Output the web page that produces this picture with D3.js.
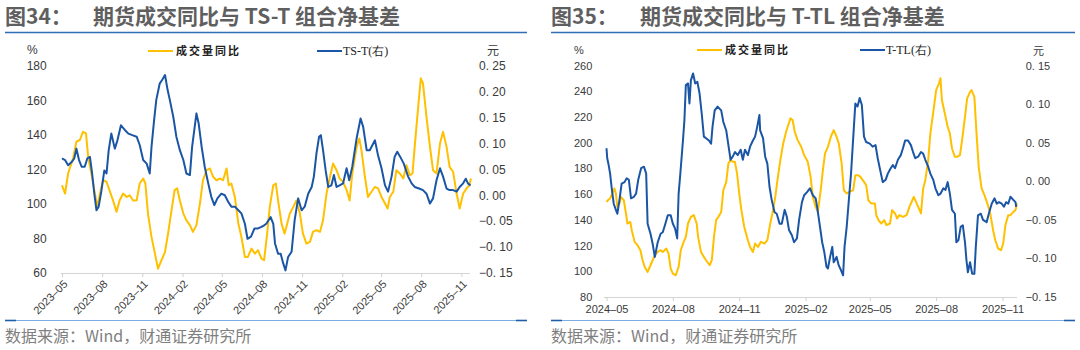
<!DOCTYPE html>
<html>
<head>
<meta charset="utf-8">
<script src="https://cdn.jsdelivr.net/npm/d3@7"></script>
<style>
  body { margin: 0; background: #fff; }
  svg { display: block; }
</style>
</head>
<body>
<svg id="chart" width="1080" height="350"></svg>
<script>
// ---------- TS-T panel data ----------
const tstMonths = ["2023-05","2023-08","2023-11","2024-02","2024-05","2024-08","2024-11","2025-02","2025-05","2025-08","2025-11"];
const tstLeftTicks = [60, 80, 100, 120, 140, 160, 180];
const tstRightTicks = [-0.15, -0.10, -0.05, 0.00, 0.05, 0.10, 0.15, 0.20, 0.25];

const tstVolDates = ["2023-05-01","2023-05-08","2023-05-15","2023-05-27","2023-06-03","2023-06-11","2023-06-18","2023-06-25","2023-06-30","2023-07-08","2023-07-14","2023-07-21","2023-07-27","2023-08-03","2023-08-11","2023-08-19","2023-08-26","2023-09-03","2023-09-10","2023-09-18","2023-09-26","2023-10-03","2023-10-11","2023-10-19","2023-10-26","2023-11-03","2023-11-08","2023-11-14","2023-11-22","2023-11-30","2023-12-07","2023-12-15","2023-12-23","2023-12-30","2024-01-07","2024-01-14","2024-01-20","2024-01-26","2024-02-03","2024-02-10","2024-02-18","2024-02-25","2024-03-04","2024-03-12","2024-03-19","2024-03-27","2024-04-04","2024-04-11","2024-04-19","2024-04-27","2024-05-04","2024-05-12","2024-05-17","2024-05-23","2024-05-31","2024-06-08","2024-06-15","2024-06-23","2024-06-30","2024-07-08","2024-07-16","2024-07-23","2024-07-31","2024-08-06","2024-08-13","2024-08-19","2024-08-27","2024-09-02","2024-09-07","2024-09-15","2024-09-22","2024-09-28","2024-10-04","2024-10-12","2024-10-19","2024-10-27","2024-11-03","2024-11-11","2024-11-19","2024-11-26","2024-12-04","2024-12-12","2024-12-19","2024-12-27","2025-01-04","2025-01-11","2025-01-19","2025-01-26","2025-02-03","2025-02-11","2025-02-18","2025-02-24","2025-03-06","2025-03-12","2025-03-17","2025-03-25","2025-04-01","2025-04-09","2025-04-17","2025-04-24","2025-05-02","2025-05-10","2025-05-16","2025-05-21","2025-05-29","2025-06-05","2025-06-13","2025-06-21","2025-06-28","2025-07-06","2025-07-12","2025-07-17","2025-07-25","2025-07-31","2025-08-05","2025-08-13","2025-08-21","2025-08-28","2025-09-05","2025-09-13","2025-09-20","2025-09-28","2025-10-05","2025-10-13","2025-10-21","2025-10-28","2025-11-05","2025-11-13","2025-11-19","2025-11-23"];
const tstVolYoY = [110.8,106,117.6,127,136,137,141.7,140.8,127,116.6,108,98.3,106,113.7,112.8,107,102,95.4,102,106,104,105,102,102,111.8,114.7,111.8,94.4,80.9,71.2,62.5,67.4,72.2,82.8,96.4,108,109,102,94.4,90.5,87.7,83.8,87.7,100.2,113.7,119.5,120.5,115.7,113.7,114.7,113.7,120.5,110.8,111.8,104,88.6,80.9,69.3,69.3,74.1,71.2,73.2,68.3,67.4,82.8,98.3,110.8,111.8,102,88.6,82.8,88.6,94.4,98.3,102,94.4,82.8,77,78,83.8,84.8,83.8,90.5,106,115.7,123.4,119.5,114.7,112.8,108,102,117.6,133,137.9,131.1,115.7,104,107,109.9,109,104,100.2,97.3,104,107,119.5,117.6,114.7,122.4,116.6,117.6,133,156.2,172.7,169.8,150.4,133,119.5,117.6,135,141.7,133,121.4,118.6,106,97.3,106,109,110.8,114.7];

const tstBasisDates = ["2023-05-01","2023-05-08","2023-05-15","2023-05-23","2023-05-29","2023-06-03","2023-06-09","2023-06-15","2023-06-22","2023-06-28","2023-07-04","2023-07-09","2023-07-14","2023-07-19","2023-07-24","2023-07-30","2023-08-06","2023-08-11","2023-08-16","2023-08-22","2023-08-30","2023-09-05","2023-09-13","2023-09-22","2023-09-30","2023-10-09","2023-10-19","2023-10-26","2023-11-03","2023-11-11","2023-11-18","2023-11-22","2023-11-28","2023-12-03","2023-12-11","2023-12-16","2023-12-23","2023-12-29","2024-01-03","2024-01-11","2024-01-18","2024-01-26","2024-02-03","2024-02-10","2024-02-18","2024-02-23","2024-02-29","2024-03-04","2024-03-09","2024-03-16","2024-03-23","2024-03-31","2024-04-07","2024-04-14","2024-04-21","2024-04-30","2024-05-08","2024-05-16","2024-05-23","2024-05-31","2024-06-08","2024-06-15","2024-06-23","2024-06-29","2024-07-07","2024-07-15","2024-07-23","2024-07-31","2024-08-06","2024-08-11","2024-08-21","2024-08-27","2024-08-31","2024-09-07","2024-09-13","2024-09-19","2024-09-24","2024-09-30","2024-10-08","2024-10-15","2024-10-23","2024-10-31","2024-11-07","2024-11-15","2024-11-23","2024-11-28","2024-12-04","2024-12-10","2024-12-14","2024-12-19","2024-12-25","2024-12-31","2025-01-07","2025-01-13","2025-01-19","2025-01-26","2025-02-03","2025-02-11","2025-02-17","2025-02-24","2025-03-06","2025-03-15","2025-03-21","2025-03-29","2025-04-05","2025-04-17","2025-04-24","2025-05-02","2025-05-10","2025-05-17","2025-05-25","2025-06-01","2025-06-07","2025-06-14","2025-06-22","2025-07-02","2025-07-10","2025-07-17","2025-07-27","2025-08-05","2025-08-13","2025-08-21","2025-08-28","2025-09-05","2025-09-13","2025-09-20","2025-09-28","2025-10-05","2025-10-13","2025-10-21","2025-10-28","2025-11-05","2025-11-11","2025-11-16","2025-11-22"];
const tstBasis = [0.071,0.068,0.058,0.064,0.071,0.090,0.068,0.055,0.055,0.071,0.074,0.042,0.003,-0.029,-0.022,0.007,0.048,0.042,0.087,0.119,0.090,0.106,0.135,0.126,0.119,0.116,0.113,0.097,0.068,0.061,0.042,0.093,0.145,0.184,0.216,0.222,0.232,0.203,0.184,0.151,0.113,0.087,0.068,0.042,0.039,0.093,0.132,0.158,0.139,0.093,0.055,0.023,-0.003,-0.019,-0.006,0.003,0.000,-0.013,-0.022,-0.022,-0.029,-0.035,-0.055,-0.084,-0.080,-0.064,-0.064,-0.061,-0.058,-0.055,-0.042,-0.055,-0.093,-0.113,-0.113,-0.132,-0.145,-0.119,-0.109,-0.048,-0.006,-0.029,-0.022,0.003,0.016,0.036,0.081,0.113,0.116,0.087,0.048,0.016,0.019,0.039,0.016,0.019,0.023,0.052,0.029,0.055,0.110,0.148,0.132,0.087,0.087,0.106,0.077,0.052,0.019,0.007,0.036,0.074,0.084,0.074,0.061,0.036,0.023,0.016,0.013,0.010,0.003,-0.016,-0.006,0.029,0.052,0.036,0.013,0.010,0.010,0.007,0.016,0.023,0.032,0.023,0.019];

// ---------- T-TL panel data ----------
const ttlMonths = ["2024-05","2024-08","2024-11","2025-02","2025-05","2025-08","2025-11"];
const ttlLeftTicks = [80, 100, 120, 140, 160, 180, 200, 220, 240, 260];
const ttlRightTicks = [-0.15, -0.10, -0.05, 0.00, 0.05, 0.10, 0.15];

const ttlVolDates = ["2024-05-01","2024-05-03","2024-05-06","2024-05-10","2024-05-12","2024-05-14","2024-05-16","2024-05-19","2024-05-21","2024-05-25","2024-05-28","2024-05-30","2024-06-03","2024-06-05","2024-06-09","2024-06-13","2024-06-17","2024-06-20","2024-06-23","2024-06-27","2024-07-01","2024-07-04","2024-07-07","2024-07-11","2024-07-15","2024-07-18","2024-07-23","2024-07-26","2024-07-29","2024-08-01","2024-08-05","2024-08-09","2024-08-12","2024-08-16","2024-08-19","2024-08-22","2024-08-26","2024-08-30","2024-09-03","2024-09-05","2024-09-09","2024-09-13","2024-09-16","2024-09-21","2024-09-24","2024-09-27","2024-09-30","2024-10-03","2024-10-07","2024-10-10","2024-10-14","2024-10-17","2024-10-20","2024-10-23","2024-10-26","2024-10-29","2024-11-01","2024-11-04","2024-11-08","2024-11-13","2024-11-16","2024-11-20","2024-11-23","2024-11-27","2024-12-01","2024-12-06","2024-12-10","2024-12-14","2024-12-17","2024-12-21","2024-12-24","2024-12-28","2025-01-01","2025-01-05","2025-01-08","2025-01-11","2025-01-14","2025-01-17","2025-01-21","2025-01-26","2025-01-30","2025-02-04","2025-02-08","2025-02-11","2025-02-15","2025-02-18","2025-02-22","2025-02-25","2025-02-28","2025-03-04","2025-03-08","2025-03-12","2025-03-16","2025-03-19","2025-03-23","2025-03-26","2025-03-30","2025-04-03","2025-04-08","2025-04-11","2025-04-15","2025-04-18","2025-04-23","2025-04-26","2025-04-29","2025-05-03","2025-05-08","2025-05-10","2025-05-13","2025-05-17","2025-05-21","2025-05-24","2025-05-29","2025-06-01","2025-06-05","2025-06-08","2025-06-11","2025-06-16","2025-06-21","2025-06-25","2025-06-29","2025-07-01","2025-07-05","2025-07-08","2025-07-11","2025-07-14","2025-07-17","2025-07-21","2025-07-24","2025-07-29","2025-08-01","2025-08-05","2025-08-07","2025-08-09","2025-08-13","2025-08-17","2025-08-20","2025-08-23","2025-08-27","2025-08-30","2025-09-03","2025-09-06","2025-09-10","2025-09-13","2025-09-17","2025-09-19","2025-09-23","2025-09-26","2025-09-29","2025-10-03","2025-10-07","2025-10-11","2025-10-15","2025-10-19","2025-10-22","2025-10-26","2025-10-30","2025-11-02","2025-11-05","2025-11-09","2025-11-12","2025-11-16","2025-11-19","2025-11-21"];
const ttlVolYoY = [154,155.3,156.7,161.8,164.5,160.6,150.1,152.8,157.9,155.3,145,137.2,138.4,132,122.9,120.3,116.4,108.6,103.4,99.5,104.7,108.6,112.5,115.1,116.4,115.1,117.7,113.8,102.1,98.2,96.9,103.4,116.4,122.9,126.8,137.2,142.3,143.7,137.2,126.8,115.1,111.2,108.6,104.7,108.6,126.8,139.8,142.3,146.2,163.1,169.6,184,186.5,185.2,185.2,176.2,160.6,147.6,134.5,124.2,119,115.1,121.6,119,122.9,121.6,124.2,137.2,145,157.9,170.9,186.5,199.5,208.6,213.8,219,217.7,208.6,202.1,196.9,190.4,185.2,173.5,157.9,150.1,146.2,163.1,178.7,191.7,196.9,204.7,209.9,204.7,199.5,184,163.1,160.6,161.8,163.1,174.8,174.8,173.5,169.6,167,155.3,152.8,152.8,143.7,139.8,137.2,139.8,135.9,137.2,147.6,145,141.1,143.7,142.3,143.7,150.1,155.3,157.9,152.8,148.9,145,164.5,170.9,186.5,207.3,228,241,246.3,250.2,233.3,222.9,212.5,207.3,195.6,189.1,189.1,190.4,202.1,220.3,234.6,239.7,241,235.8,207.3,181.3,164.5,159.3,152.8,145,132,124.2,117.7,116.4,121.6,135.9,143.7,143.7,146.2,147.6,152.8];

const ttlBasisDates = ["2024-05-01","2024-05-02","2024-05-04","2024-05-06","2024-05-08","2024-05-11","2024-05-14","2024-05-16","2024-05-19","2024-05-22","2024-05-26","2024-05-29","2024-06-01","2024-06-04","2024-06-08","2024-06-11","2024-06-14","2024-06-18","2024-06-22","2024-06-25","2024-06-27","2024-07-01","2024-07-04","2024-07-07","2024-07-11","2024-07-15","2024-07-18","2024-07-21","2024-07-25","2024-07-29","2024-08-01","2024-08-04","2024-08-07","2024-08-09","2024-08-11","2024-08-15","2024-08-17","2024-08-19","2024-08-22","2024-08-24","2024-08-26","2024-08-29","2024-09-01","2024-09-04","2024-09-07","2024-09-10","2024-09-13","2024-09-16","2024-09-20","2024-09-23","2024-09-25","2024-09-28","2024-10-02","2024-10-07","2024-10-10","2024-10-14","2024-10-17","2024-10-20","2024-10-23","2024-10-26","2024-10-30","2024-11-03","2024-11-06","2024-11-09","2024-11-13","2024-11-16","2024-11-20","2024-11-23","2024-11-26","2024-11-29","2024-11-30","2024-12-04","2024-12-07","2024-12-10","2024-12-13","2024-12-16","2024-12-20","2024-12-23","2024-12-27","2024-12-30","2025-01-03","2025-01-06","2025-01-09","2025-01-13","2025-01-16","2025-01-20","2025-01-23","2025-01-27","2025-01-30","2025-02-03","2025-02-07","2025-02-08","2025-02-11","2025-02-15","2025-02-17","2025-02-21","2025-02-24","2025-02-27","2025-03-02","2025-03-04","2025-03-07","2025-03-10","2025-03-12","2025-03-16","2025-03-19","2025-03-22","2025-03-25","2025-03-27","2025-03-30","2025-04-02","2025-04-05","2025-04-09","2025-04-11","2025-04-14","2025-04-17","2025-04-20","2025-04-23","2025-04-26","2025-05-01","2025-05-05","2025-05-09","2025-05-12","2025-05-16","2025-05-19","2025-05-23","2025-05-26","2025-05-30","2025-06-02","2025-06-05","2025-06-09","2025-06-13","2025-06-16","2025-06-19","2025-06-23","2025-06-27","2025-06-30","2025-07-03","2025-07-07","2025-07-11","2025-07-14","2025-07-17","2025-07-21","2025-07-24","2025-07-28","2025-07-31","2025-08-04","2025-08-07","2025-08-11","2025-08-14","2025-08-17","2025-08-20","2025-08-23","2025-08-27","2025-08-29","2025-09-01","2025-09-04","2025-09-07","2025-09-10","2025-09-12","2025-09-14","2025-09-17","2025-09-20","2025-09-23","2025-09-25","2025-09-28","2025-10-02","2025-10-05","2025-10-10","2025-10-13","2025-10-17","2025-10-21","2025-10-24","2025-10-27","2025-10-31","2025-11-03","2025-11-06","2025-11-09","2025-11-12","2025-11-16","2025-11-19","2025-11-20"];
const ttlBasis = [0.043,0.030,0.021,0.010,-0.007,-0.029,-0.037,-0.042,-0.024,-0.003,-0.001,0.004,0.002,-0.022,-0.020,-0.016,0.002,0.017,0.019,0.010,-0.055,-0.068,-0.081,-0.098,-0.079,-0.068,-0.066,-0.057,-0.044,-0.044,-0.055,-0.061,-0.074,-0.016,0.006,0.053,0.079,0.125,0.127,0.101,0.131,0.140,0.127,0.129,0.114,0.088,0.058,0.056,0.053,0.049,0.071,0.092,0.097,0.092,0.077,0.066,0.047,0.028,0.032,0.038,0.034,0.041,0.028,0.041,0.034,0.045,0.053,0.058,0.071,0.086,0.066,0.056,0.032,0.023,-0.007,-0.024,-0.040,-0.042,-0.055,-0.055,-0.037,-0.046,-0.063,-0.070,-0.079,-0.074,-0.050,-0.027,-0.018,-0.014,-0.009,-0.011,-0.018,-0.022,-0.033,-0.059,-0.079,-0.092,-0.111,-0.113,-0.098,-0.085,-0.105,-0.098,-0.109,-0.115,-0.122,-0.085,-0.059,-0.024,0.010,0.071,0.101,0.097,0.108,0.099,0.058,0.051,0.049,0.045,0.047,0.030,0.012,-0.001,0.002,0.010,0.017,0.021,0.017,0.028,0.034,0.043,0.053,0.053,0.047,0.038,0.030,0.032,0.038,0.036,0.028,0.019,0.010,0.002,-0.009,-0.018,-0.016,-0.009,-0.011,-0.001,-0.016,-0.037,-0.042,-0.079,-0.076,-0.059,-0.057,-0.079,-0.102,-0.118,-0.105,-0.120,-0.120,-0.085,-0.044,-0.042,-0.050,-0.053,-0.042,-0.029,-0.022,-0.029,-0.027,-0.029,-0.033,-0.027,-0.029,-0.020,-0.024,-0.027,-0.033];

// ---------- shared styling ----------
const YELLOW = "#FFC000";
const BLUE = "#1A56A5";
const TEXT = "#3a3a3a";
const TITLE = "#5f5f5f";
const LATIN = "'Liberation Sans', Arial, sans-serif";
const CJK = "'Noto Sans CJK SC', 'Noto Sans', sans-serif";

const parseDay = d3.timeParse("%Y-%m-%d");
const svg = d3.select("#chart");

const fmtRight = v => d3.format(".2f")(v).replace("-", "\u2212").replace(".", ". ");
const fmtMonth = d => d3.timeFormat("%Y-%m")(d).replace("-", "\u2013");

function zip(dates, values) {
  return dates.map((d, i) => ({ date: parseDay(d), v: values[i] }));
}

function drawPanel(o) {
  const g = svg.append("g");

  // title block
  g.append("text").attr("x", o.frame[0]).attr("y", 24)
    .attr("font-family", CJK).attr("font-size", 21).attr("font-weight", 700)
    .attr("fill", TITLE).text(o.figNo);
  g.append("text").attr("x", o.titleX).attr("y", 24)
    .attr("font-family", CJK).attr("font-size", 21).attr("font-weight", 700)
    .attr("fill", TITLE).text(o.title);
  g.append("line").attr("x1", o.frame[0]).attr("x2", o.frame[1])
    .attr("y1", 32.5).attr("y2", 32.5).attr("stroke", "#2f6db5").attr("stroke-width", 1.5);

  // footer rule and source note
  g.append("line").attr("x1", o.frame[0]).attr("x2", o.frame[1])
    .attr("y1", 320.5).attr("y2", 320.5).attr("stroke", "#7aaee0").attr("stroke-width", 1);
  [[o.frame[0], o.frame[0] + 11], [o.frame[1] - 11, o.frame[1]]].forEach(([a, b]) => {
    g.append("line").attr("x1", a).attr("x2", b).attr("y1", 320.5).attr("y2", 320.5)
      .attr("stroke", "#1f5fa8").attr("stroke-width", 1.6);
  });
  g.append("text").attr("x", o.frame[0]).attr("y", 342)
    .attr("font-family", CJK).attr("font-size", 16).attr("fill", "#7f7f7f")
    .text("数据来源：Wind，财通证券研究所");

  // scales
  const x = d3.scaleTime()
    .domain([parseDay(o.months[0] + "-01"), parseDay(o.months[o.months.length - 1] + "-01")])
    .range(o.xRange);
  const yL = d3.scaleLinear().domain(d3.extent(o.leftTicks)).range([o.base, o.top]);
  const yR = d3.scaleLinear().domain(d3.extent(o.rightTicks)).range([o.base, o.top]);

  // unit labels
  g.append("text").attr("x", o.pctX).attr("y", o.unitY)
    .attr("font-family", LATIN).attr("font-size", o.fs).attr("fill", TEXT).text("%");
  g.append("text").attr("x", o.yuanX).attr("y", o.unitY + 1)
    .attr("font-family", CJK).attr("font-size", o.fs).attr("fill", TEXT).text("元");

  // left y labels
  g.selectAll(".yl").data(o.leftTicks).join("text")
    .attr("x", o.leftLabelX).attr("y", d => yL(d)).attr("dy", "0.36em")
    .attr("text-anchor", "end").attr("font-family", LATIN).attr("font-size", o.fs)
    .attr("fill", TEXT).text(d => d);

  // right y labels
  g.selectAll(".yr").data(o.rightTicks).join("text")
    .attr("x", o.rightLabelX).attr("y", d => yR(d)).attr("dy", "0.36em")
    .attr("text-anchor", "start").attr("font-family", LATIN).attr("font-size", o.fs)
    .attr("fill", TEXT).text(fmtRight);

  // x axis
  const axis = d3.axisBottom(x)
    .tickValues(o.months.map(m => parseDay(m + "-01")))
    .tickSize(4).tickSizeOuter(0).tickFormat(fmtMonth);
  const ax = g.append("g").attr("transform", `translate(0,${o.base})`).call(axis);
  ax.select(".domain").remove();
  ax.selectAll(".tick line").attr("stroke", "#cfcfcf");
  ax.append("line").attr("x1", o.axisSpan[0]).attr("x2", o.axisSpan[1])
    .attr("y1", 0.5).attr("y2", 0.5).attr("stroke", "#d4d4d4").attr("stroke-width", 1.2);
  const lbl = ax.selectAll(".tick text")
    .attr("font-family", LATIN).attr("font-size", o.xfs).attr("fill", TEXT);
  if (o.rotate) {
    lbl.attr("text-anchor", "end").attr("y", 0).attr("dy", "0.35em")
      .attr("transform", "translate(3,9) rotate(-45)");
  } else {
    lbl.attr("y", 8).attr("dy", "0.71em");
  }

  // series
  const volLine = d3.line().x(d => x(d.date)).y(d => yL(d.v));
  const basisLine = d3.line().x(d => x(d.date)).y(d => yR(d.v));
  g.append("path").datum(zip(o.volDates, o.vol)).attr("d", volLine)
    .attr("fill", "none").attr("stroke", YELLOW).attr("stroke-width", 2).attr("stroke-linejoin", "round");
  g.append("path").datum(zip(o.basisDates, o.basis)).attr("d", basisLine)
    .attr("fill", "none").attr("stroke", BLUE).attr("stroke-width", 2).attr("stroke-linejoin", "round");

  // legend
  const lg = g.append("g").attr("transform", `translate(0,${o.legendY})`);
  lg.append("line").attr("x1", o.legendX[0]).attr("x2", o.legendX[0] + 25)
    .attr("stroke", YELLOW).attr("stroke-width", 2);
  lg.append("text").attr("x", o.legendX[0] + 28).attr("y", 4)
    .attr("font-family", CJK).attr("font-size", 11).attr("font-weight", 700)
    .attr("letter-spacing", 2).attr("fill", "#222").text("成交量同比");
  lg.append("line").attr("x1", o.legendX[1]).attr("x2", o.legendX[1] + 25)
    .attr("stroke", BLUE).attr("stroke-width", 2);
  lg.append("text").attr("x", o.legendX[1] + 26).attr("y", 4)
    .attr("font-family", "'Liberation Serif', 'Times New Roman', serif").attr("font-size", 12)
    .attr("fill", "#222").text(o.basisName);
}

drawPanel({
  frame: [5, 527], figNo: "图34：", titleX: 93, title: "期货成交同比与 TS-T 组合净基差",
  months: tstMonths, xRange: [62, 461.4], axisSpan: [61, 470],
  base: 273, top: 65.7, leftTicks: tstLeftTicks, rightTicks: tstRightTicks,
  leftLabelX: 46.7, rightLabelX: 479, fs: 12, xfs: 11, rotate: true,
  pctX: 27, yuanX: 487, unitY: 54,
  volDates: tstVolDates, vol: tstVolYoY, basisDates: tstBasisDates, basis: tstBasis,
  legendY: 51, legendX: [148, 317], basisName: "TS-T(右)"
});

drawPanel({
  frame: [551, 1075], figNo: "图35：", titleX: 640, title: "期货成交同比与 T-TL 组合净基差",
  months: ttlMonths, xRange: [606.5, 1002.5], axisSpan: [604, 1017],
  base: 297, top: 65.7, leftTicks: ttlLeftTicks, rightTicks: ttlRightTicks,
  leftLabelX: 592.3, rightLabelX: 1025.7, fs: 11, xfs: 11, rotate: false,
  pctX: 574, yuanX: 1033, unitY: 54,
  volDates: ttlVolDates, vol: ttlVolYoY, basisDates: ttlBasisDates, basis: ttlBasis,
  legendY: 50, legendX: [697, 860], basisName: "T-TL(右)"
});
</script>
</body>
</html>
